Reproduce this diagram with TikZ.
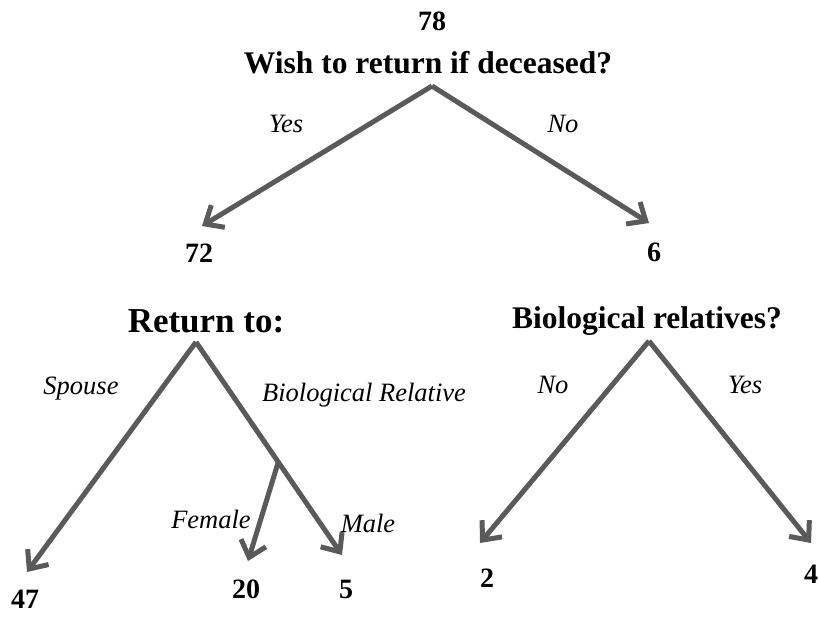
\documentclass[tikz,border=0pt]{standalone}
\usepackage{fontspec}
\setmainfont{Liberation Serif}[
    BoldFont={Liberation Serif Bold},
    ItalicFont={Liberation Serif Italic},
    BoldItalicFont={Liberation Serif Bold Italic}]
\usetikzlibrary{arrows.meta}

\definecolor{branchgray}{RGB}{90,90,90}

\tikzset{
    branch/.style={draw=branchgray, line width=5pt, -{Straight Barb[length=15pt, width=26pt]}},
    question/.style={font=\fontsize{31.5}{36}\selectfont\bfseries, inner sep=0pt, anchor=base},
    count/.style={font=\fontsize{28}{30}\selectfont\bfseries, inner sep=0pt, anchor=base},
    answer/.style={font=\fontsize{26.5}{30}\selectfont\itshape, inner sep=0pt, anchor=base}
}

\begin{document}
\begin{tikzpicture}[x=1pt, y=-1pt]

    \useasboundingbox (0,0) rectangle (819,616);

    % Top question
    \node[count] (n78) at (432,30) {78};
    \node[question] (wish) at (428,73) {Wish to return if deceased?};
    \coordinate (wishtop) at (432,86);
    \coordinate (tip72) at (202,226);
    \coordinate (tip6) at (649,223);

    \draw[branch] (wishtop) -- (tip72);
    \draw[branch] (wishtop) -- (tip6);

    \node[answer] (yes1) at (286,132) {Yes};
    \node[answer] (no1) at (563,132) {No};

    \node[count] (n72) at (199,262) {72};
    \node[count] (n6) at (654,261) {6};

    % Left subtree
    \node[question, font=\fontsize{35}{40}\selectfont\bfseries] (ret) at (206,332) {Return to:};
    \coordinate (rettop) at (196,342);
    \coordinate (fork) at (278,463);
    \coordinate (tip47) at (27,572);
    \coordinate (tip20) at (248,561);
    \coordinate (tip5) at (342,555);

    \draw[branch] (rettop) -- (tip47);
    \draw[branch] (rettop) -- (tip5);
    \draw[branch] (fork) -- (tip20);

    \node[answer] (spouse) at (81,394) {Spouse};
    \node[answer] (biorel) at (364,401) {Biological Relative};
    \node[answer] (female) at (211,528) {Female};
    \node[answer] (male) at (368,532) {Male};

    \node[count] (n47) at (25,608) {47};
    \node[count] (n20) at (246,598) {20};
    \node[count] (n5) at (346,598) {5};

    % Right subtree
    \node[question] (bio) at (647,328) {Biological relatives?};
    \coordinate (biotop) at (649,341);
    \coordinate (tip2) at (480,543);
    \coordinate (tip4) at (811,543);

    \draw[branch] (biotop) -- (tip2);
    \draw[branch] (biotop) -- (tip4);

    \node[answer] (no2) at (553,393) {No};
    \node[answer] (yes2) at (745,393) {Yes};

    \node[count] (n2) at (487,587) {2};
    \node[count] (n4) at (811,583) {4};

\end{tikzpicture}
\end{document}
